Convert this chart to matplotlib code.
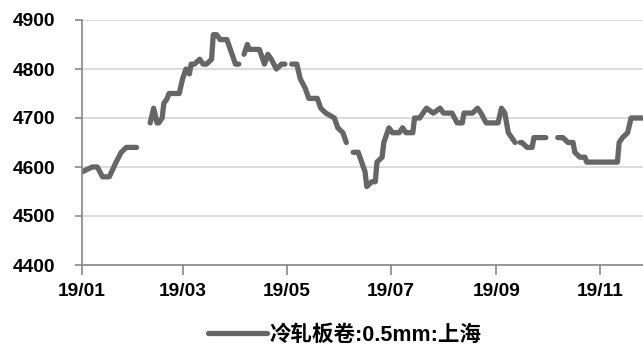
import numpy as np
import pandas as pd
import matplotlib
matplotlib.use("Agg")
import matplotlib.pyplot as plt
import matplotlib.dates as mdates

# price readings, None = no quote (holidays) -> gap in line
dates = [
    "2019-01-01", "2019-01-07", "2019-01-10", "2019-01-13", "2019-01-17", "2019-01-21",
    "2019-01-24", "2019-01-27", "2019-02-02", "2019-02-06",
    "2019-02-10", "2019-02-12", "2019-02-14", "2019-02-15", "2019-02-17", "2019-02-18",
    "2019-02-20", "2019-02-21", "2019-02-27", "2019-03-01", "2019-03-03", "2019-03-05",
    "2019-03-06", "2019-03-08", "2019-03-11", "2019-03-13", "2019-03-15", "2019-03-18",
    "2019-03-19", "2019-03-21", "2019-03-23", "2019-03-27", "2019-03-29", "2019-04-01",
    "2019-04-03", "2019-04-05",
    "2019-04-06", "2019-04-08", "2019-04-09", "2019-04-15", "2019-04-18", "2019-04-20",
    "2019-04-22", "2019-04-25", "2019-04-28", "2019-04-30", "2019-05-02",
    "2019-05-04", "2019-05-07", "2019-05-09", "2019-05-12", "2019-05-14", "2019-05-19",
    "2019-05-21", "2019-05-24", "2019-05-29", "2019-05-31", "2019-06-03", "2019-06-05",
    "2019-06-07",
    "2019-06-09", "2019-06-12", "2019-06-14", "2019-06-16", "2019-06-17", "2019-06-20",
    "2019-06-22", "2019-06-23", "2019-06-26", "2019-06-27", "2019-06-30", "2019-07-02",
    "2019-07-06", "2019-07-08", "2019-07-10", "2019-07-14", "2019-07-15", "2019-07-18",
    "2019-07-22", "2019-07-26", "2019-07-30", "2019-08-01", "2019-08-06", "2019-08-09",
    "2019-08-12", "2019-08-13", "2019-08-18", "2019-08-21", "2019-08-23", "2019-08-26",
    "2019-09-02", "2019-09-04", "2019-09-06", "2019-09-08", "2019-09-10", "2019-09-12",
    "2019-09-13",
    "2019-09-15", "2019-09-16", "2019-09-19", "2019-09-22", "2019-09-23", "2019-09-30",
    "2019-10-03",
    "2019-10-07", "2019-10-10", "2019-10-13", "2019-10-16", "2019-10-17", "2019-10-20",
    "2019-10-23", "2019-10-24", "2019-11-11", "2019-11-12", "2019-11-14", "2019-11-17",
    "2019-11-19", "2019-11-30",
]
prices = [
    4590, 4600, 4600, 4580, 4580, 4610, 4630, 4640, 4640, None,
    4690, 4720, 4690, 4690, 4700, 4730, 4740, 4750, 4750, 4780, 4800, 4790,
    4810, 4810, 4820, 4810, 4810, 4820, 4870, 4870, 4860, 4860, 4840, 4810,
    4810, None,
    4830, 4850, 4840, 4840, 4810, 4830, 4820, 4800, 4810, 4810, None,
    4810, 4810, 4780, 4760, 4740, 4740, 4720, 4710, 4700, 4680, 4670, 4650,
    None,
    4630, 4630, 4610, 4590, 4560, 4570, 4570, 4610, 4620, 4650, 4680, 4670,
    4670, 4680, 4670, 4670, 4700, 4700, 4720, 4710, 4720, 4710, 4710, 4690,
    4690, 4710, 4710, 4720, 4710, 4690, 4690, 4720, 4710, 4670, 4660, 4650,
    None,
    4650, 4650, 4640, 4640, 4660, 4660, None,
    4660, 4660, 4650, 4650, 4630, 4620, 4620, 4610, 4610, 4650, 4660, 4670,
    4700, 4700,
]
series_name = "冷轧板卷:0.5mm:上海"

x = pd.to_datetime(dates)
y = np.array([np.nan if v is None else v for v in prices], dtype=float)

plt.rcParams['font.family'] = ['Liberation Sans', 'Noto Sans CJK SC', 'DejaVu Sans']
plt.rcParams['font.weight'] = 'bold'

fig = plt.figure(figsize=(6.43, 3.49), dpi=100)
ax = fig.add_axes([82/643, 1 - 265/349, 1 - 82/643, (265 - 20)/349])

line, = ax.plot(x, y, color='#666666', lw=3.8, solid_capstyle='round',
                solid_joinstyle='round', label=series_name)

ax.set_ylim(4400, 4900)
ax.set_yticks([4400, 4500, 4600, 4700, 4800, 4900])
ax.set_xlim(pd.Timestamp("2019-01-01"), pd.Timestamp("2019-11-26"))
ax.xaxis.set_major_locator(mdates.MonthLocator(bymonth=[1, 3, 5, 7, 9, 11]))
ax.xaxis.set_major_formatter(mdates.DateFormatter('%y/%m'))

ax.grid(axis='y', color='#d9d9d9', lw=1.3)
ax.set_axisbelow(True)
for s in ['top', 'right']:
    ax.spines[s].set_visible(False)
for s in ['left', 'bottom']:
    ax.spines[s].set_color('#888888')
    ax.spines[s].set_linewidth(1.2)

ax.tick_params(axis='y', length=5, width=1.2, color='#888888', pad=14, labelsize=13.8)
ax.tick_params(axis='x', length=7, width=1.2, color='#888888', pad=6, labelsize=13.8)
for lab in ax.get_xticklabels() + ax.get_yticklabels():
    lab.set_fontweight('bold')

fig.legend(handles=[line], loc='center', bbox_to_anchor=(345/643, 1 - 335/349),
           frameon=False, handlelength=2.7, handletextpad=0.15,
           prop={'size': 15.5, 'weight': 'bold'})

fig.savefig("out.png", dpi=100)
